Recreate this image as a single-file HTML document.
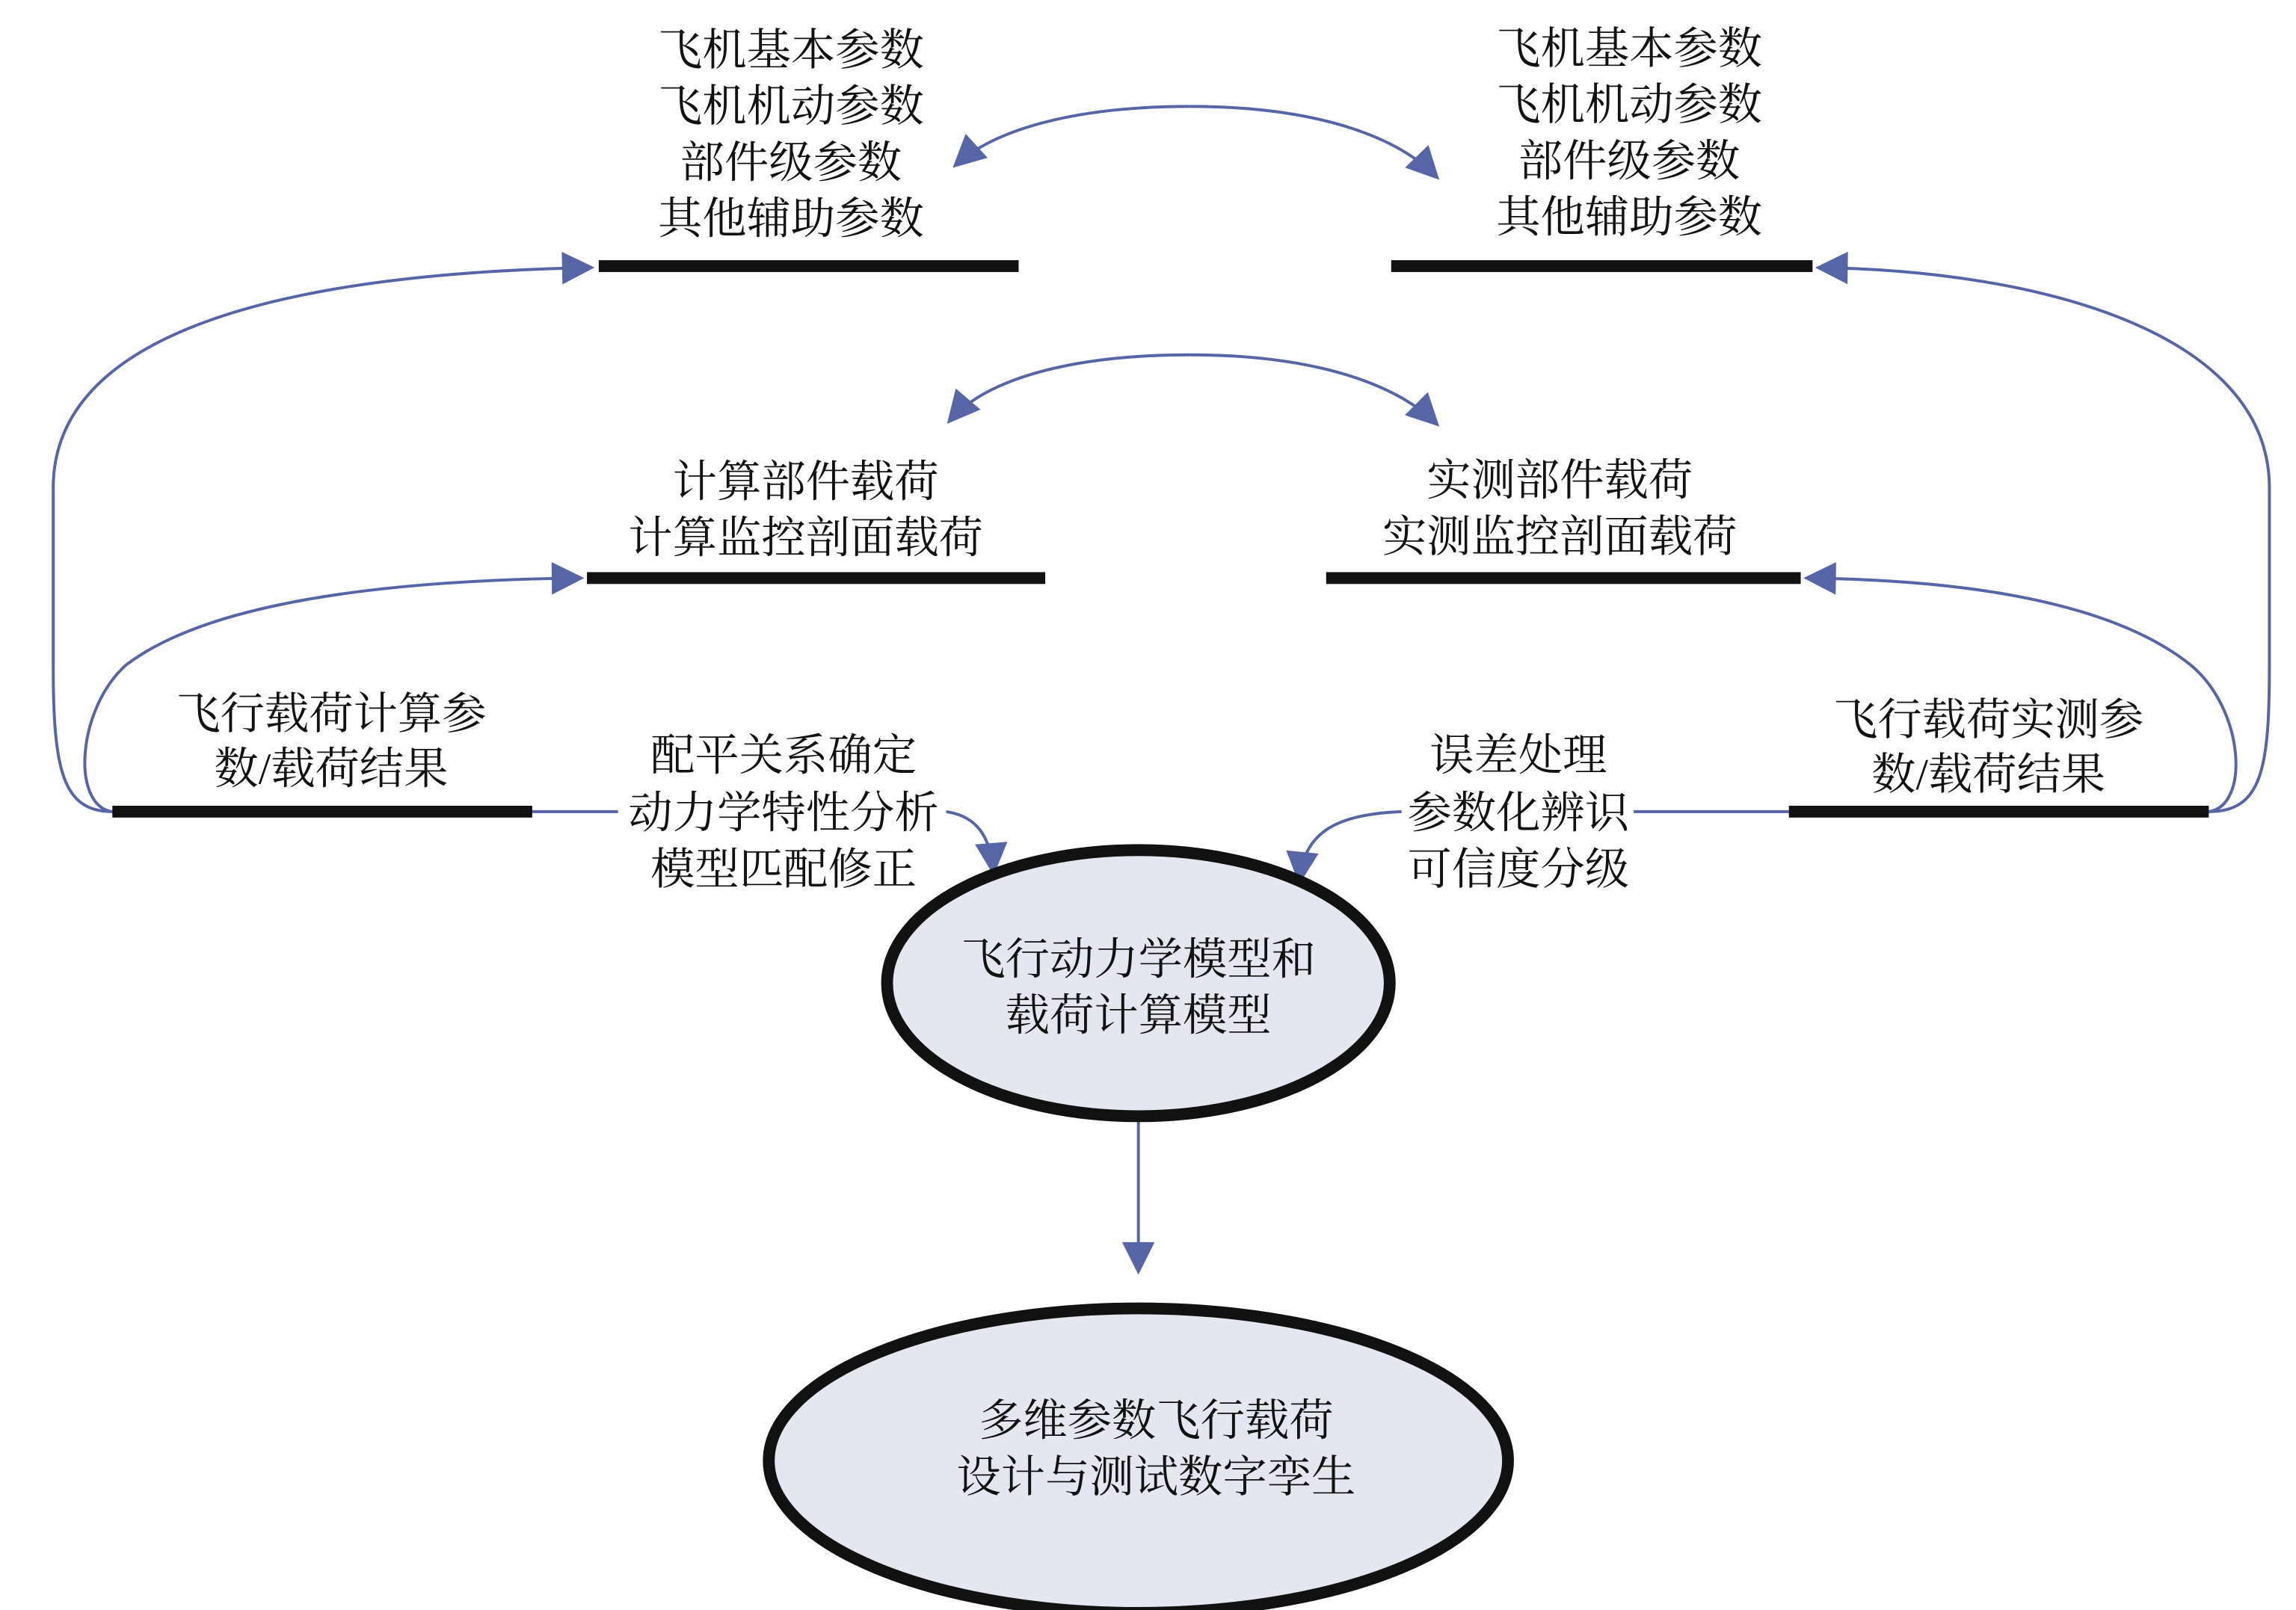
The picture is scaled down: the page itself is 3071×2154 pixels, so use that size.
<!DOCTYPE html>
<html><head><meta charset="utf-8"><style>
html,body{margin:0;padding:0;background:#fff;}
svg{display:block;}
text{font-family:"Liberation Serif","Noto Serif CJK SC","Noto Sans CJK SC",serif;font-size:30px;fill:#111;text-anchor:middle;}
</style></head><body>
<svg width="3071" height="2154" viewBox="0 0 1553 1089" preserveAspectRatio="none" xmlns="http://www.w3.org/2000/svg">
<defs>
<marker id="a" viewBox="0 0 10 10" refX="9" refY="5" markerWidth="9" markerHeight="9" markerUnits="userSpaceOnUse" orient="auto"><path d="M0,0 L10,5 L0,10 z" fill="#5565a5"/></marker>
<marker id="b" viewBox="0 0 10 10" refX="9" refY="5" markerWidth="24" markerHeight="22" markerUnits="userSpaceOnUse" orient="auto"><path d="M0,0 L10,5 L0,10 z" fill="#5565a5"/></marker>
</defs>
<g fill="none" stroke="#5565a5" stroke-width="2">
<path d="M805,72 C720,72 670,90 646,112" marker-end="url(#b)"/>
<path d="M805,72 C890,72 945,92 972,120" marker-end="url(#b)"/>
<path d="M805,240 C720,240 665,258 642,285" marker-end="url(#b)"/>
<path d="M805,240 C890,240 945,260 972,287" marker-end="url(#b)"/>
<path d="M76,549 C42,549 36,520 36,450 L36,330 C36,225 190,185 400,181" marker-end="url(#b)"/>
<path d="M76,549 C48,545 52,480 85,450 C150,400 300,392 393,391" marker-end="url(#b)"/>
<path d="M1494,549 C1530,549 1535,520 1535,450 L1535,330 C1535,225 1380,183 1230,181" marker-end="url(#b)"/>
<path d="M1494,549 C1522,545 1518,480 1482,450 C1420,400 1300,392 1222,391" marker-end="url(#b)"/>
<path d="M360,549 L418,549"/>
<path d="M640,549 C660,552 670,565 672,590" marker-end="url(#b)"/>
<path d="M1210,549 L1105,549"/>
<path d="M948,549 C900,551 882,565 879,596" marker-end="url(#b)"/>
<path d="M770,755 L770,860" marker-end="url(#b)"/>
</g>
<g fill="#111">
<rect x="405" y="176" width="284" height="8"/>
<rect x="941" y="176" width="285" height="8"/>
<rect x="397" y="387" width="310" height="8"/>
<rect x="897" y="387" width="321" height="8"/>
<rect x="76" y="545" width="284" height="8"/>
<rect x="1210" y="545" width="284" height="8"/>
</g>
<ellipse cx="770" cy="665" rx="170" ry="90" fill="#e4e6f0" stroke="#111" stroke-width="8"/>
<ellipse cx="770" cy="988" rx="250" ry="103" fill="#e4e6f0" stroke="#111" stroke-width="8"/>
<text x="535" y="44">飞机基本参数</text>
<text x="535" y="82">飞机机动参数</text>
<text x="535" y="120">部件级参数</text>
<text x="535" y="158">其他辅助参数</text>
<text x="1102" y="43">飞机基本参数</text>
<text x="1102" y="81">飞机机动参数</text>
<text x="1102" y="119">部件级参数</text>
<text x="1102" y="157">其他辅助参数</text>
<text x="545" y="336">计算部件载荷</text>
<text x="545" y="374">计算监控剖面载荷</text>
<text x="1055" y="335">实测部件载荷</text>
<text x="1055" y="373">实测监控剖面载荷</text>
<text x="224" y="493">飞行载荷计算参</text>
<text x="224" y="530">数/载荷结果</text>
<text x="1345" y="497">飞行载荷实测参</text>
<text x="1345" y="534">数/载荷结果</text>
<text x="530" y="521">配平关系确定</text>
<text x="530" y="560">动力学特性分析</text>
<text x="530" y="598">模型匹配修正</text>
<text x="1027" y="521">误差处理</text>
<text x="1027" y="560">参数化辨识</text>
<text x="1027" y="598">可信度分级</text>
<text x="770" y="659">飞行动力学模型和</text>
<text x="770" y="697">载荷计算模型</text>
<text x="782" y="971">多维参数飞行载荷</text>
<text x="782" y="1009">设计与测试数字孪生</text>
</svg>
</body></html>
